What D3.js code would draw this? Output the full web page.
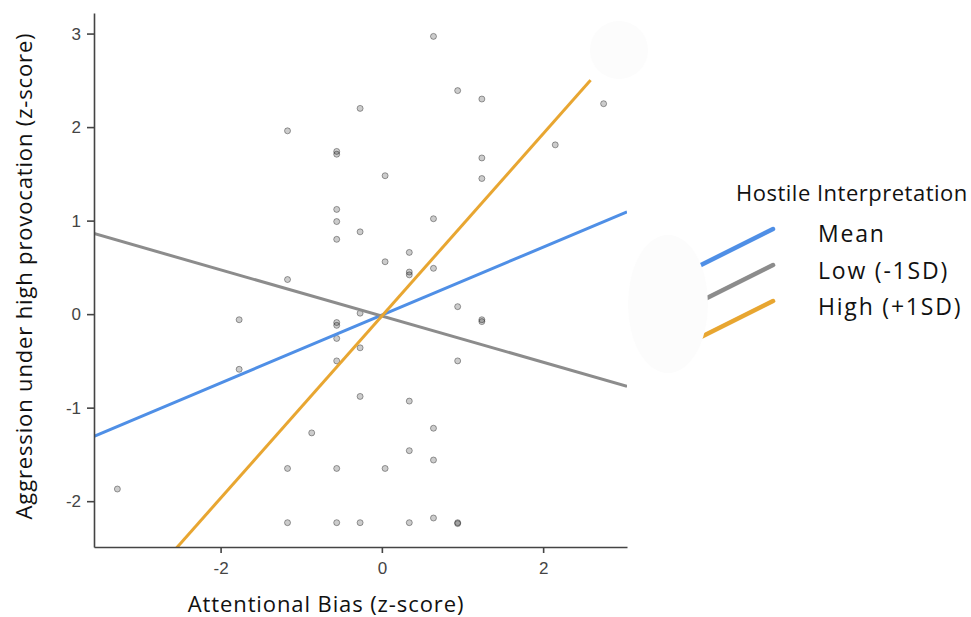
<!DOCTYPE html>
<html>
<head>
<meta charset="utf-8">
<script src="https://cdn.jsdelivr.net/npm/d3@7"></script>
<style>
  body { margin: 0; background: #fff; }
  svg { display: block; }
</style>
</head>
<body>
<div id="chart"></div>
<script>
// scatter points: attentional bias (x) vs aggression (y), z-scores
let biasValues = [-3.28, -1.77, -1.77, -1.17, -1.17, -1.17, -1.17, -0.87,
    -0.56, -0.56, -0.56, -0.56, -0.56, -0.56, -0.56, -0.56, -0.56, -0.56, -0.56,
    -0.27, -0.27, -0.27, -0.27, -0.27, -0.27,
    0.04, 0.04, 0.04,
    0.34, 0.34, 0.34, 0.34, 0.34, 0.34,
    0.64, 0.64, 0.64, 0.64, 0.64, 0.64,
    0.94, 0.94, 0.94, 0.94, 0.94,
    1.24, 1.24, 1.24, 1.24, 1.24,
    2.15, 2.75];
let aggressionValues = [-1.87, -0.06, -0.59, 1.96, 0.37, -1.65, -2.23, -1.27,
    1.74, 1.71, 1.12, 0.99, 0.80, -0.09, -0.12, -0.26, -0.50, -1.65, -2.23,
    2.20, 0.88, 0.01, -0.36, -0.88, -2.23,
    1.48, 0.56, -1.65,
    0.66, 0.45, 0.42, -0.93, -1.46, -2.23,
    2.97, 1.02, 0.49, -1.22, -1.56, -2.18,
    2.39, 0.08, -0.50, -2.23, -2.24,
    2.30, 1.67, 1.45, -0.06, -0.08,
    1.81, 2.25];

// simple slopes at levels of hostile interpretation
let seriesNames = ["Mean", "Low (-1SD)", "High (+1SD)"];
let seriesSlopes = [0.363, -0.247, 0.974];
let seriesIntercepts = [-0.01, -0.02, -0.02];
let seriesColors = ["#4f8fe6", "#8c8c8c", "#e8a631"];

let xTicks = [-2, 0, 2];
let yTicks = [-2, -1, 0, 1, 2, 3];
let xDomain = [-3.57, 3.04];
let yDomain = [-2.49, 3.22];

let W = 971, H = 617;
let plotLeft = 94, plotRight = 627, plotTop = 13, plotBottom = 547;

let svg = d3.select("#chart").append("svg").attr("width", W).attr("height", H);

let x = d3.scaleLinear().domain(xDomain).range([plotLeft, plotRight]);
let y = d3.scaleLinear().domain(yDomain).range([plotBottom, plotTop]);

svg.append("clipPath").attr("id", "plotClip")
    .append("rect").attr("x", plotLeft).attr("y", plotTop)
    .attr("width", plotRight - plotLeft).attr("height", plotBottom - plotTop);

// points
let points = biasValues.map((b, i) => ({x: b, y: aggressionValues[i]}));
svg.append("g").selectAll("circle").data(points).enter().append("circle")
    .attr("cx", d => x(d.x)).attr("cy", d => y(d.y)).attr("r", 3)
    .attr("fill", "rgba(0,0,0,0.2)")
    .attr("stroke", "rgba(0,0,0,0.36)")
    .attr("stroke-width", 1);

// regression lines
let lineGen = d3.line().x(d => x(d[0])).y(d => y(d[1]));
let lines = svg.append("g").attr("clip-path", "url(#plotClip)");
seriesNames.forEach((name, i) => {
    let pts = xDomain.map(v => [v, seriesIntercepts[i] + seriesSlopes[i] * v]);
    lines.append("path").datum(pts).attr("d", lineGen)
        .attr("fill", "none").attr("stroke", seriesColors[i]).attr("stroke-width", 3);
});

// axes
let axisColor = "#444";
let yAxis = svg.append("g").attr("transform", "translate(" + plotLeft + ",0)")
    .call(d3.axisLeft(y).tickValues(yTicks).tickSize(7).tickSizeOuter(0).tickPadding(6).tickFormat(d => String(d)));
let xAxis = svg.append("g").attr("transform", "translate(0," + plotBottom + ")")
    .call(d3.axisBottom(x).tickValues(xTicks).tickSize(6).tickSizeOuter(0).tickPadding(9).tickFormat(d => String(d)));
[xAxis, yAxis].forEach(a => {
    a.select(".domain").attr("stroke", axisColor).attr("stroke-width", 1.6);
    a.selectAll(".tick line").attr("stroke", axisColor).attr("stroke-width", 1.6);
    a.selectAll(".tick text").attr("fill", "#444").attr("font-family", "'Liberation Sans', Arial, sans-serif").attr("font-size", 17);
});

let labelFont = "'Open Sans', 'Noto Sans', sans-serif";
svg.append("text").text("Attentional Bias (z-score)")
    .attr("x", 326).attr("y", 612).attr("text-anchor", "middle")
    .attr("font-family", labelFont).attr("font-size", 22).attr("letter-spacing", 0.9).attr("fill", "#111");
svg.append("text").text("Aggression under high provocation (z-score)")
    .attr("transform", "translate(32,276) rotate(-90)").attr("text-anchor", "middle")
    .attr("font-family", labelFont).attr("font-size", 22).attr("letter-spacing", 0.85).attr("fill", "#111");

// legend
let legend = svg.append("g");
legend.append("text").text("Hostile Interpretation")
    .attr("x", 736).attr("y", 201).attr("font-family", labelFont).attr("font-size", 22)
    .attr("letter-spacing", 0.5).attr("fill", "#111");
seriesNames.forEach((name, i) => {
    let ly = 246 + i * 36;
    legend.append("line")
        .attr("x1", 655).attr("y1", ly + 42).attr("x2", 773).attr("y2", ly - 17)
        .attr("stroke", seriesColors[i]).attr("stroke-width", 4.5).attr("stroke-linecap", "round");
    legend.append("text").text(name)
        .attr("x", 818).attr("y", 242 + i * 36.5)
        .attr("font-family", labelFont).attr("font-size", 23).attr("letter-spacing", 1.8).attr("fill", "#111");
});

// soft white patches that sit over the line ends in the original figure
svg.append("circle").attr("cx", 619).attr("cy", 48).attr("r", 43).attr("fill", "#fff");
svg.append("circle").attr("cx", 619).attr("cy", 50).attr("r", 29).attr("fill", "#fcfcfc");
svg.append("ellipse").attr("cx", 668).attr("cy", 304).attr("rx", 40).attr("ry", 69).attr("fill", "#fcfcfc");
</script>
</body>
</html>
